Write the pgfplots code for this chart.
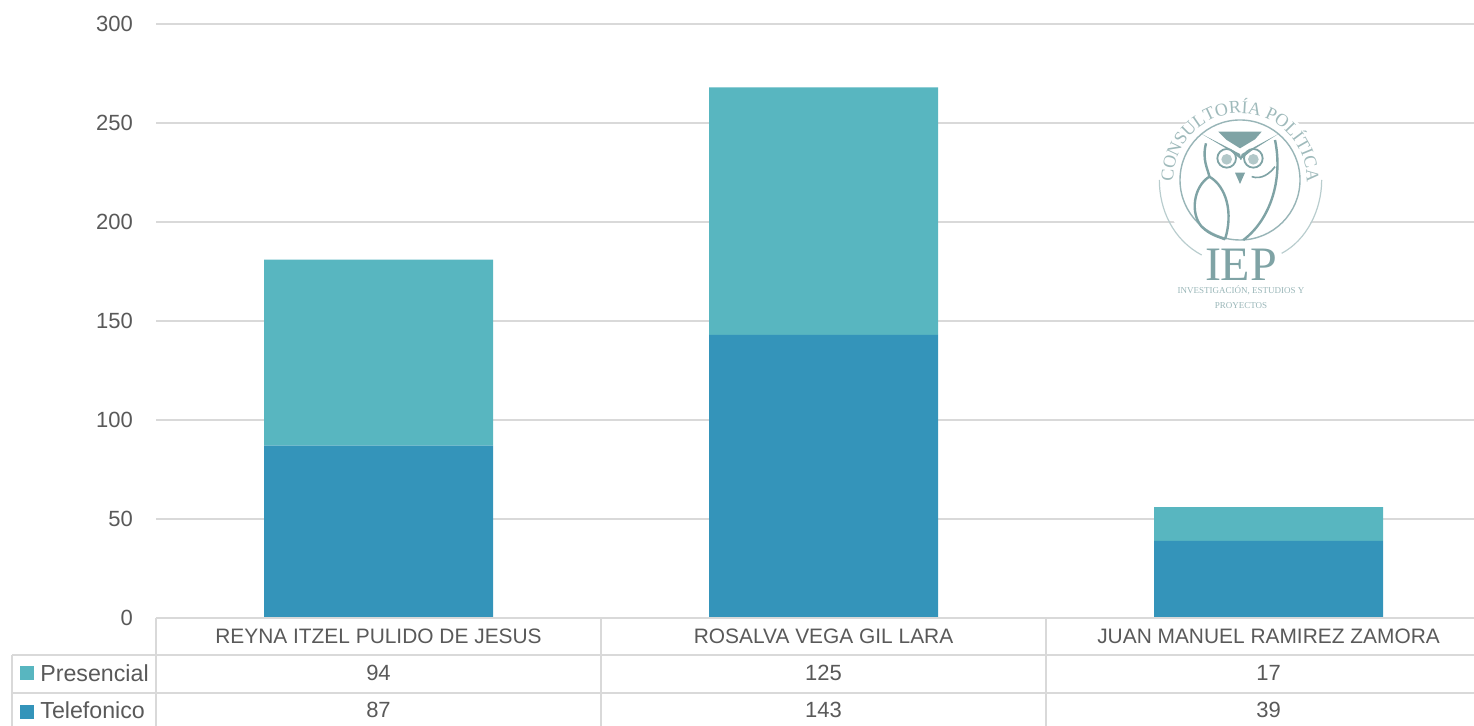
\documentclass[border=0pt]{standalone}
\usepackage{fontspec}
\setmainfont{Liberation Sans}
\newfontfamily\logofont{Liberation Serif}
\usepackage{pgfplots}
\pgfplotsset{compat=1.18}
\usepackage{pgfplotstable}
\usetikzlibrary{decorations.text}
\definecolor{telef}{HTML}{3494BA}
\definecolor{presen}{HTML}{58B6C0}
\definecolor{gridc}{HTML}{D9D9D9}
\definecolor{txt}{HTML}{595959}
\definecolor{owl}{HTML}{7FA3A5}
\pgfplotstableread{
x tel pre
0 87 94
1 143 125
2 39 17
}\votos
\begin{document}
% one tikz unit = one pixel of the reference, y upwards from the bottom edge
\begin{tikzpicture}[x=0.5pt,y=0.5pt,font=\fontsize{11}{13}\selectfont]
\path[use as bounding box] (0,0) rectangle (1474,726);
\begin{axis}[
    at={(78pt,54pt)},anchor=south west,
    scale only axis,width=659pt,height=297pt,
    ybar stacked,bar width=114.5pt,
    xmin=-0.5,xmax=2.4618,ymin=0,ymax=300,
    xtick={0,1,2},
    xticklabels={REYNA ITZEL PULIDO DE JESUS,ROSALVA VEGA GIL LARA,JUAN MANUEL RAMIREZ ZAMORA},
    ytick={0,50,100,150,200,250,300},
    ymajorgrids,grid style={gridc,line width=1pt},
    axis line style={draw=none},
    major tick length=0pt,
    tick label style={text=txt},
    xticklabel style={anchor=north,yshift=-2pt,font=\fontsize{10.45}{12}\selectfont},
    yticklabel style={anchor=east,xshift=-8pt},
    /pgf/number format/assume math mode=true,
  ]
  \addplot[fill=telef,draw=none] table[x=x,y=tel] {\votos};
  \addplot[fill=presen,draw=none] table[x=x,y=pre] {\votos};
\end{axis}
% data table under the plot
\draw[gridc,line width=1pt] (156,108)--(1474,108)
  (12,71)--(1474,71) (12,33)--(1474,33)
  (156,108)--(156,0) (601,108)--(601,0) (1046,108)--(1046,0)
  (12,71)--(12,0);
\foreach \xx/\a/\b in {378.5/94/87,823.5/125/143,1268.5/17/39}{
  \node[text=txt] at (\xx,53) {\a};
  \node[text=txt] at (\xx,16) {\b};
}
\fill[presen] (20,46) rectangle (34,60);
\fill[telef] (20,7) rectangle (34,21);
\node[text=txt,anchor=west,inner sep=0pt,font=\fontsize{11.6}{13}\selectfont] at (40,53) {Presencial};
\node[text=txt,anchor=west,inner sep=0pt,font=\fontsize{11.6}{13}\selectfont] at (40,16) {Telefonico};
% watermark, coordinates as in a 3x crop starting at pixel (1130,80)
\begin{scope}[shift={(1130,646)},x=0.16667pt,y=-0.16667pt]
  \fill[white] (337,300) circle[radius=240];
  \draw[owl!80,line width=0.7pt] (330,300) circle[radius=180];
  \draw[owl!55,line width=0.6pt] (215,525) .. controls (130,480) and (88,390) .. (88,300);
  \draw[owl!55,line width=0.6pt] (455,520) .. controls (530,480) and (575,390) .. (575,300);
  \path[decorate,decoration={text along path,text align=center,
      text={|\logofont\fontsize{9}{10}\selectfont\color{owl!75}|CONSULTORÍA POLÍTICA}}]
      (130,300) arc[start angle=180,end angle=360,radius=200];
  \fill[owl] (265,155)--(395,155)--(375,178)--(330,205)--(290,180)--cycle;
  \fill[owl] (215,162)--(330,222)--(335,240)--(300,212)--cycle;
  \fill[owl] (445,162)--(335,222)--(330,240)--(365,212)--cycle;
  \draw[owl,line width=0.9pt] (290,235) circle[radius=28] (370,235) circle[radius=28];
  \fill[owl!60] (290,238) circle[radius=16] (370,238) circle[radius=16];
  \fill[owl] (315,278)--(345,278)--(330,312)--cycle;
  \draw[owl,line width=1.2pt] (228,190) .. controls (215,240) and (235,270) .. (238,290)
     .. controls (190,320) and (180,400) .. (215,440)
     .. controls (240,465) and (265,470) .. (285,478);
  \draw[owl,line width=1.2pt] (238,290) .. controls (290,320) and (310,400) .. (285,478);
  \draw[owl,line width=1.2pt] (435,180) .. controls (460,300) and (420,420) .. (340,480);
  \draw[owl,line width=0.8pt] (365,290) .. controls (395,300) and (420,280) .. (435,260);
  \fill[white] (215,500) rectangle (450,610);
  \node[text=owl,font=\logofont\fontsize{24}{28}\selectfont,inner sep=0pt] at (333,553) {IEP};
  \node[text=owl!80,font=\logofont\fontsize{4.5}{5}\selectfont,inner sep=0pt] at (333,630) {INVESTIGACIÓN, ESTUDIOS Y};
  \node[text=owl!80,font=\logofont\fontsize{4.5}{5}\selectfont,inner sep=0pt] at (333,677) {PROYECTOS};
\end{scope}
\end{tikzpicture}
\end{document}
